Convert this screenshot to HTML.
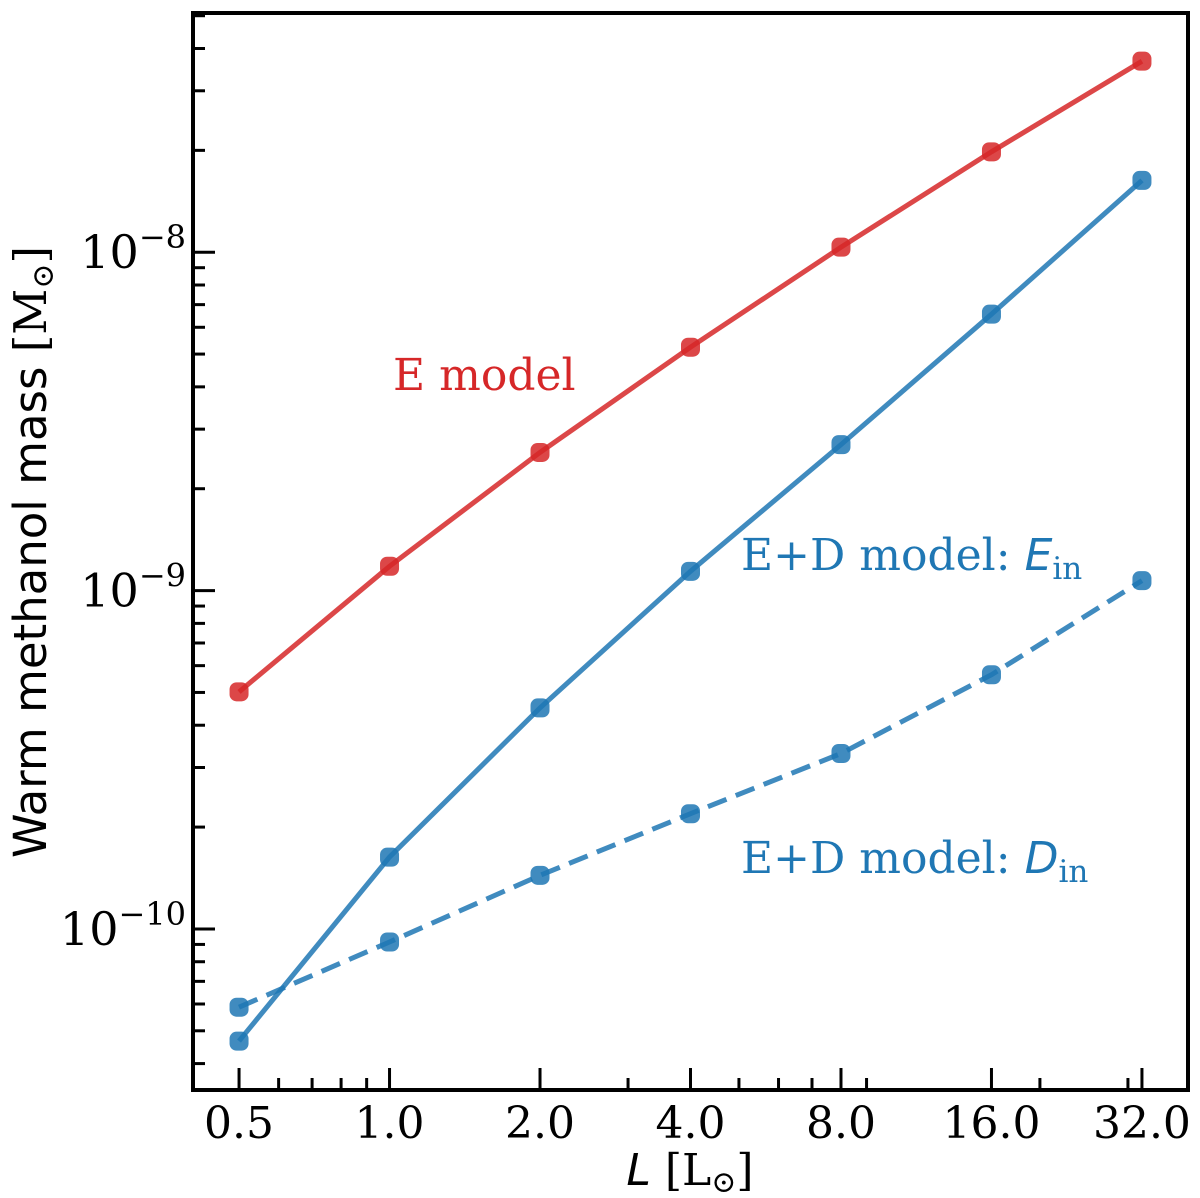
<!DOCTYPE html>
<html><head><meta charset="utf-8"><style>
html,body{margin:0;padding:0;background:#fff}
svg{display:block}
.t{font-family:"DejaVu Serif","Liberation Serif",serif;fill:#000}
</style></head><body>
<svg id="chart" width="1200" height="1198" viewBox="0 0 1200 1198" xmlns="http://www.w3.org/2000/svg">
<g id="grid"></g>
<g id="marks"></g>
<g id="axes"></g>
<text class="t" x="393" y="390" font-size="44" style="fill:#d62728">E model</text>
<text class="t" x="741" y="570" font-size="44" style="fill:#1f77b4">E+D model: <tspan font-family="DejaVu Sans,sans-serif" font-style="italic">E</tspan><tspan font-size="31" dy="9">in</tspan></text>
<text class="t" x="741" y="873" font-size="44" style="fill:#1f77b4">E+D model: <tspan font-family="DejaVu Sans,sans-serif" font-style="italic">D</tspan><tspan font-size="31" dy="9">in</tspan></text>
<text class="t" x="690" y="1185" font-size="44" text-anchor="middle"><tspan font-family="DejaVu Sans,sans-serif" font-style="italic">L</tspan> [L<tspan font-size="30" dy="7">⊙</tspan><tspan dy="-7">]</tspan></text>
<text class="t" transform="translate(46,552) rotate(-90)" font-size="45" text-anchor="middle"><tspan font-family="DejaVu Sans,sans-serif">Warm methanol mass</tspan> [M<tspan font-size="30" dy="7">⊙</tspan><tspan dy="-7">]</tspan></text>
</svg>
<script>
const luminosities = [0.5, 1, 2, 4, 8, 16, 32];
const eModel = [5.02e-10, 1.18e-9, 2.56e-9, 5.24e-9, 1.035e-8, 1.98e-8, 3.67e-8];
const edEin = [4.66e-11, 1.63e-10, 4.5e-10, 1.14e-9, 2.7e-9, 6.56e-9, 1.63e-8];
const edDin = [5.87e-11, 9.15e-11, 1.44e-10, 2.19e-10, 3.3e-10, 5.64e-10, 1.07e-9];
const xTickValues = [0.5, 1, 2, 4, 8, 16, 32];
const xTickLabels = ["0.5", "1.0", "2.0", "4.0", "8.0", "16.0", "32.0"];
const yTickExps = [-10, -9, -8];

const NS = "http://www.w3.org/2000/svg";
const L = 193, R = 1188, T = 13, B = 1090;
const xMin = -1.306, xMax = 5.306, yMin = -10.476, yMax = -7.293;
function xs(v){ return L + (Math.log2(v) - xMin) / (xMax - xMin) * (R - L); }
function ys(v){ return B - (Math.log10(v) - yMin) / (yMax - yMin) * (B - T); }
function mk(tag, attrs, parent){ const e = document.createElementNS(NS, tag); for (const k in attrs) e.setAttribute(k, attrs[k]); parent.appendChild(e); return e; }

const marks = document.getElementById('marks');
const axes = document.getElementById('axes');
function series(vals, color, dash, name){
  const g = mk('g', {}, marks);
  
  
  const pts = luminosities.map((x, i) => xs(x).toFixed(1) + ',' + ys(vals[i]).toFixed(1)).join(' ');
  const pl = mk('polyline', {points: pts, fill: 'none', stroke: color, 'stroke-width': 5, 'stroke-opacity': 0.85, 'stroke-dasharray': dash}, g);
  
  
  luminosities.forEach((x, i) => {
    const c = mk('rect', {x: xs(x) - 9.5, y: ys(vals[i]) - 9.5, width: 19, height: 19, rx: 7, fill: color, 'fill-opacity': 0.85}, g);
    
    
  });
}
series(eModel, '#d62728', 'none', 'e-model');
series(edEin, '#1f77b4', 'none', 'ed-ein');
series(edDin, '#1f77b4', '20,10', 'ed-din');

const fr = mk('rect', {x: L, y: T, width: R - L, height: B - T, fill: 'none', stroke: '#000', 'stroke-width': 4}, axes);


xTickValues.forEach((v, i) => {
  const x = xs(v);
  const tk = mk('line', {x1: x, x2: x, y1: B, y2: B - 22, stroke: '#000', 'stroke-width': 3}, axes);
  
  
  const tx = mk('text', {x: x, y: B + 48, 'font-size': 44, 'text-anchor': 'middle', class: 't'}, axes);
  tx.textContent = xTickLabels[i];
  
  
});
[0.6,0.7,0.8,0.9,3,5,6,7,9,20,30].forEach(v => {
  const x = xs(v);
  const tk = mk('line', {x1: x, x2: x, y1: B, y2: B - 12, stroke: '#000', 'stroke-width': 3}, axes);
  
  
});
yTickExps.forEach(e => {
  const y = ys(Math.pow(10, e));
  const tk = mk('line', {x1: L, x2: L + 22, y1: y, y2: y, stroke: '#000', 'stroke-width': 3}, axes);
  
  
  const tx = mk('text', {x: 186, y: y + 16, 'font-size': 46, 'text-anchor': 'end', class: 't'}, axes);
  tx.innerHTML = '10<tspan font-size="32" dy="-20">\u2212' + (-e) + '</tspan>';
  
  
});
for (let e = -11; e <= -8; e++) for (let m = 2; m <= 9; m++) {
  const v = m * Math.pow(10, e), y = ys(v);
  if (y < T + 2 || y > B - 2) continue;
  const tk = mk('line', {x1: L, x2: L + 12, y1: y, y2: y, stroke: '#000', 'stroke-width': 3}, axes);
  
  
}
</script>
</body></html>
